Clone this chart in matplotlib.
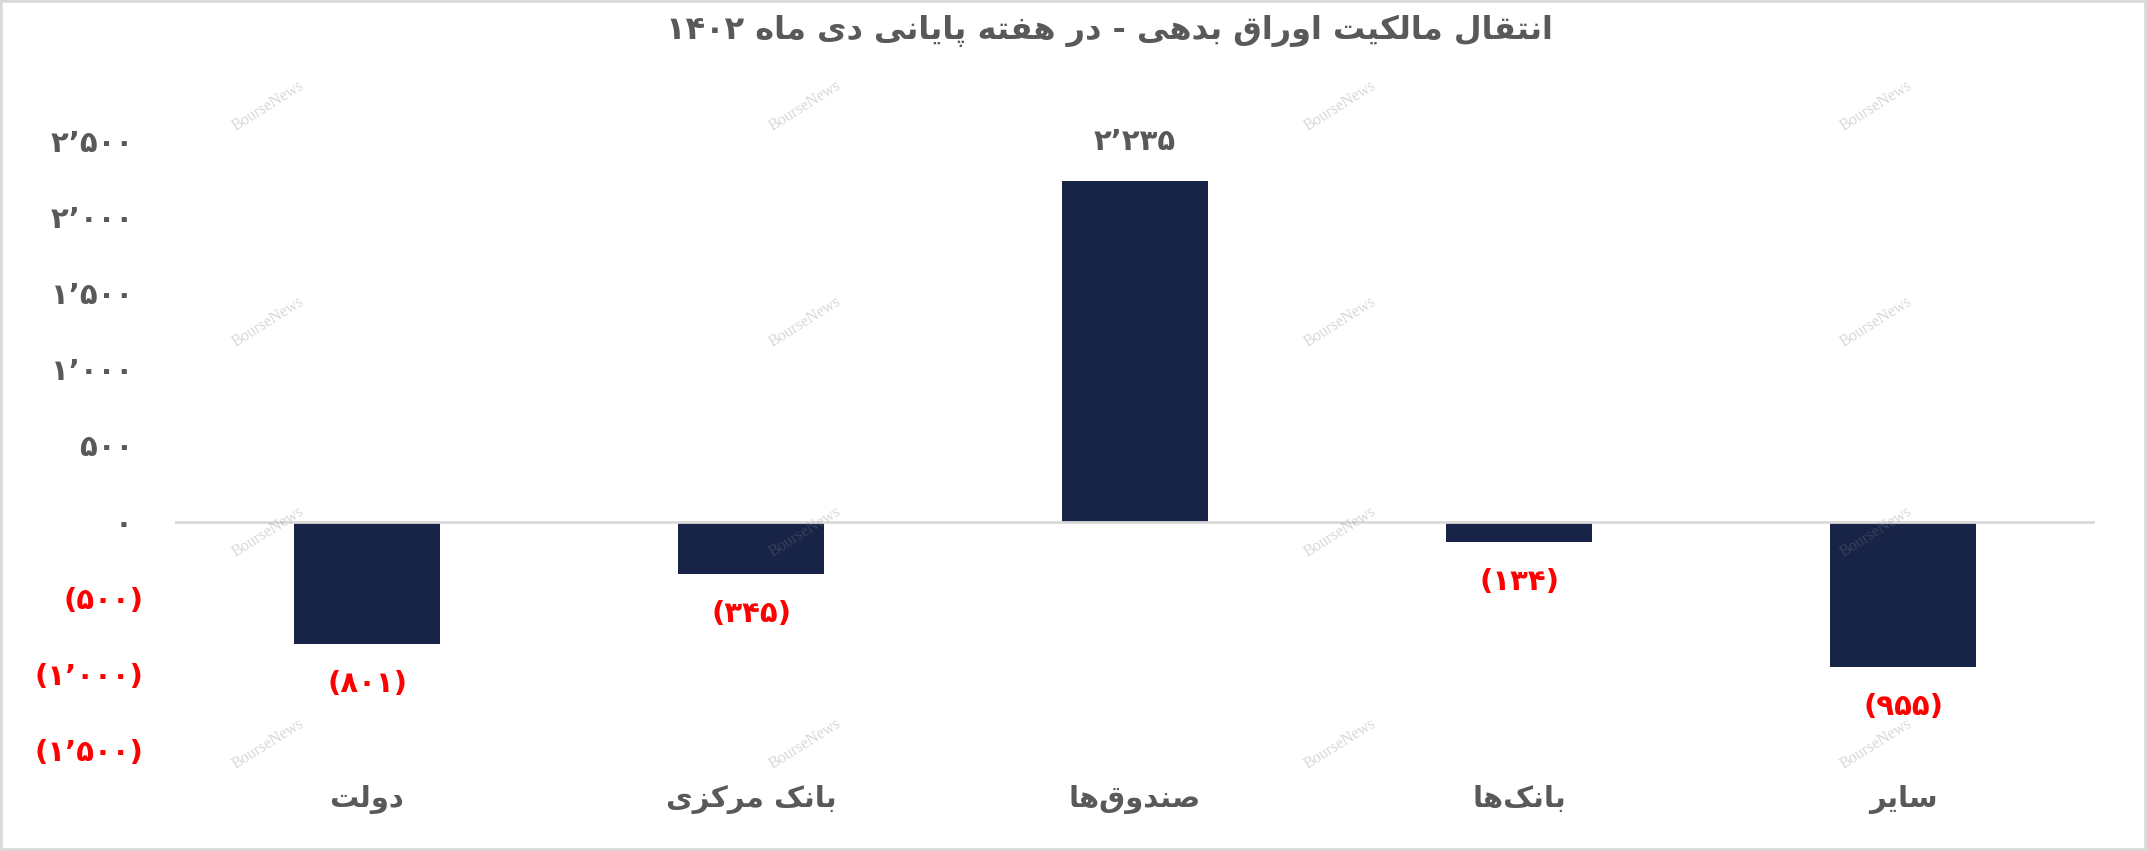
import re
import matplotlib
matplotlib.use("Agg")
import matplotlib.pyplot as plt
from matplotlib.patches import Rectangle

# data
categories = ["دولت", "بانک مرکزی", "صندوق‌ها", "بانک‌ها", "سایر"]
values = [-801, -345, 2235, -134, -955]
value_labels = ["(۸۰۱)", "(۳۴۵)", "۲’۲۳۵", "(۱۳۴)", "(۹۵۵)"]
ytick_values = [-1500, -1000, -500, 0, 500, 1000, 1500, 2000, 2500]
ytick_labels = ["(۱’۵۰۰)", "(۱’۰۰۰)", "(۵۰۰)", "۰", "۵۰۰", "۱’۰۰۰", "۱’۵۰۰", "۲’۰۰۰", "۲’۵۰۰"]
title = "انتقال مالکیت اوراق بدهی - در هفته پایانی دی ماه ۱۴۰۲"

# matplotlib has no arabic shaping, so pick presentation forms by hand
# (isolated, final, initial, medial)
FORMS = {
    'ا': ('\uFE8D', '\uFE8E', None, None),
    'ب': ('\uFE8F', '\uFE90', '\uFE91', '\uFE92'),
    'پ': ('\uFB56', '\uFB57', '\uFB58', '\uFB59'),
    'ت': ('\uFE95', '\uFE96', '\uFE97', '\uFE98'),
    'د': ('\uFEA9', '\uFEAA', None, None),
    'ر': ('\uFEAD', '\uFEAE', None, None),
    'ز': ('\uFEAF', '\uFEB0', None, None),
    'س': ('\uFEB1', '\uFEB2', '\uFEB3', '\uFEB4'),
    'ص': ('\uFEB9', '\uFEBA', '\uFEBB', '\uFEBC'),
    'ف': ('\uFED1', '\uFED2', '\uFED3', '\uFED4'),
    'ق': ('\uFED5', '\uFED6', '\uFED7', '\uFED8'),
    'ک': ('\uFB8E', '\uFB8F', '\uFB90', '\uFB91'),
    'ل': ('\uFEDD', '\uFEDE', '\uFEDF', '\uFEE0'),
    'م': ('\uFEE1', '\uFEE2', '\uFEE3', '\uFEE4'),
    'ن': ('\uFEE5', '\uFEE6', '\uFEE7', '\uFEE8'),
    'ه': ('\uFEE9', '\uFEEA', '\uFEEB', '\uFEEC'),
    'و': ('\uFEED', '\uFEEE', None, None),
    'ی': ('\uFBFC', '\uFBFD', '\uFBFE', '\uFBFF'),
}


def fa(text):
    out = []
    for i, ch in enumerate(text):
        if ch not in FORMS:
            out.append(ch)
            continue
        prev = text[i - 1] if i > 0 else ''
        nxt = text[i + 1] if i + 1 < len(text) else ''
        join_prev = prev in FORMS and FORMS[prev][2] is not None
        join_next = FORMS[ch][2] is not None and nxt in FORMS
        iso, fin, ini, med = FORMS[ch]
        if join_prev and join_next:
            out.append(med)
        elif join_prev:
            out.append(fin)
        elif join_next:
            out.append(ini)
        else:
            out.append(iso)
    s = ''.join(out).replace('\u200c', '')[::-1]
    # numbers still read left to right
    return re.sub(r'[۰-۹’]+', lambda m: m.group(0)[::-1], s)


plt.rcParams['font.family'] = ['DejaVu Sans']
plt.rcParams['font.weight'] = 'bold'

GRAY = '#595959'
RED = '#FF0000'
BAR = '#172447'

fig = plt.figure(figsize=(21.47, 8.51), dpi=100)
ax = fig.add_axes([175 / 2147, 101 / 851, 1920 / 2147, 609 / 851])

x = list(range(len(categories)))
ax.bar(x, values, width=0.38, color=BAR, zorder=2)
ax.axhline(0, color='#D9D9D9', lw=2, zorder=3)

ax.set_xlim(-0.5, len(categories) - 0.5)
ax.set_ylim(-1500, 2500)
for s in ax.spines.values():
    s.set_visible(False)

ax.set_xticks(x, [fa(c) for c in categories])
ax.tick_params(axis='x', length=0, pad=25, labelsize=21, labelcolor=GRAY)
ax.set_yticks(ytick_values, [l if v < 0 else l + ' ' for l, v in zip(ytick_labels, ytick_values)])
ax.tick_params(axis='y', length=0, pad=23, labelsize=21)
for lbl, v in zip(ax.get_yticklabels(), ytick_values):
    lbl.set_color(RED if v < 0 else GRAY)

for i, (v, lab) in enumerate(zip(values, value_labels)):
    ax.annotate(lab, (i, v), xytext=(0, 28 if v > 0 else -29), textcoords='offset points',
                ha='center', va='center', fontsize=21, color=GRAY if v > 0 else RED)

fig.text(1109 / 2147, 1 - 31 / 851, fa(title), ha='center', va='center', fontsize=23, color=GRAY)

# watermark grid
wm_x = [268, 805, 1340, 1876]
wm_y = [106, 322, 532, 744]
for wx in wm_x:
    for wy in wm_y:
        fig.text(wx / 2147, 1 - wy / 851, 'BourseNews', family='Liberation Serif', weight='normal',
                 fontsize=11.5, color='#7F7F7F', alpha=0.3, rotation=32, ha='center', va='center',
                 rotation_mode='anchor', zorder=5)

fig.patches.append(Rectangle((0, 0), 1, 1, transform=fig.transFigure, fill=False,
                             edgecolor='#D9D9D9', lw=4))

fig.savefig('out.png', dpi=100)
